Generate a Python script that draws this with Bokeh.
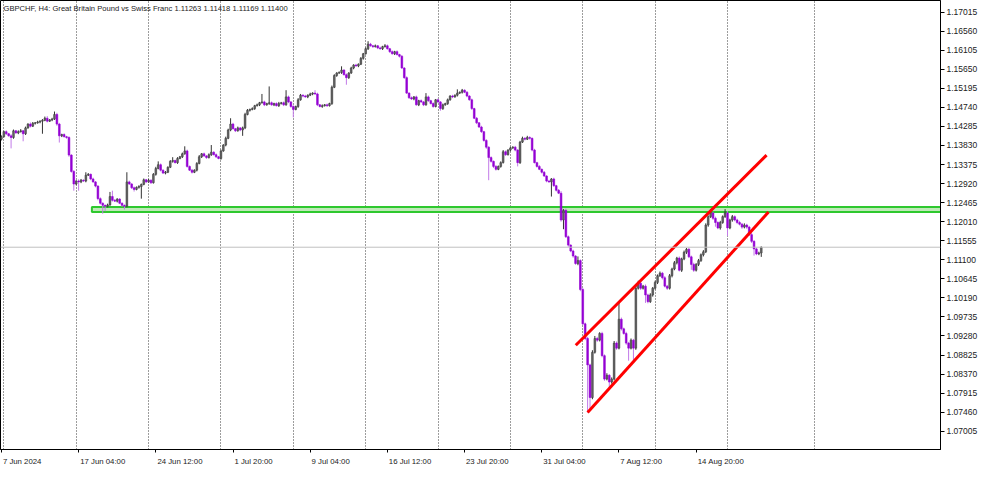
from bokeh.plotting import figure
from bokeh.models import FixedTicker, Label, Span, Range1d
from bokeh.embed import file_html
from bokeh.resources import INLINE

# ---------------- data (H4 bars, index 0 = 10 Jun 2024 00:00) ----------------
first_bar_index = -1
first_open = 1.1398
closes = [
    1.1404, 1.1416, 1.1411, 1.1406, 1.1402, 1.1418, 1.1413, 1.1416, 1.1418, 1.1411,
    1.1425, 1.1434, 1.1429, 1.1436, 1.1437, 1.1439, 1.1441, 1.1443, 1.1448, 1.1441,
    1.1444, 1.1446, 1.1457, 1.1434, 1.1406, 1.1409, 1.1404, 1.1402, 1.1360, 1.1321,
    1.1291, 1.1298, 1.1296, 1.1300, 1.1298, 1.1312, 1.1314, 1.1303, 1.1296, 1.1286,
    1.1256, 1.1245, 1.1240, 1.1238, 1.1241, 1.1261, 1.1252, 1.1250, 1.1255, 1.1245,
    1.1240, 1.1238, 1.1296, 1.1291, 1.1282, 1.1278, 1.1283, 1.1285, 1.1290, 1.1301,
    1.1296, 1.1300, 1.1294, 1.1314, 1.1328, 1.1337, 1.1324, 1.1317, 1.1319, 1.1331,
    1.1345, 1.1347, 1.1342, 1.1352, 1.1356, 1.1363, 1.1370, 1.1333, 1.1324, 1.1319,
    1.1324, 1.1340, 1.1356, 1.1363, 1.1358, 1.1354, 1.1361, 1.1367, 1.1361, 1.1356,
    1.1352, 1.1370, 1.1384, 1.1400, 1.1420, 1.1434, 1.1423, 1.1418, 1.1425, 1.1420,
    1.1425, 1.1457, 1.1467, 1.1469, 1.1471, 1.1478, 1.1480, 1.1485, 1.1487, 1.1480,
    1.1483, 1.1485, 1.1480, 1.1483, 1.1478, 1.1483, 1.1485, 1.1480, 1.1499, 1.1487,
    1.1476, 1.1469, 1.1476, 1.1492, 1.1503, 1.1501, 1.1499, 1.1503, 1.1506, 1.1508,
    1.1506, 1.1480, 1.1476, 1.1478, 1.1480, 1.1478, 1.1483, 1.1522, 1.1550, 1.1556,
    1.1557, 1.1563, 1.1552, 1.1545, 1.1556, 1.1568, 1.1575, 1.1573, 1.1577, 1.1591,
    1.1602, 1.1614, 1.1625, 1.1621, 1.1619, 1.1621, 1.1616, 1.1614, 1.1619, 1.1621,
    1.1614, 1.1607, 1.1602, 1.1607, 1.1600, 1.1596, 1.1568, 1.1545, 1.1508, 1.1497,
    1.1494, 1.1499, 1.1480, 1.1490, 1.1487, 1.1480, 1.1499, 1.1490, 1.1483, 1.1476,
    1.1492, 1.1487, 1.1471, 1.1480, 1.1483, 1.1492, 1.1501, 1.1499, 1.1503, 1.1508,
    1.1510, 1.1515, 1.1510, 1.1501, 1.1492, 1.1471, 1.1448, 1.1437, 1.1427, 1.1416,
    1.1395, 1.1379, 1.1354, 1.1345, 1.1333, 1.1326, 1.1333, 1.1342, 1.1368, 1.1361,
    1.1372, 1.1377, 1.1379, 1.1372, 1.1342, 1.1391, 1.1400, 1.1398, 1.1402, 1.1400,
    1.1372, 1.1342, 1.1333, 1.1326, 1.1319, 1.1310, 1.1298, 1.1296, 1.1303, 1.1287,
    1.1276, 1.1269, 1.1205, 1.1228, 1.1165, 1.1145, 1.1131, 1.1119, 1.1101, 1.1108,
    1.1039, 1.0957, 1.0922, 1.0859, 1.0781, 1.0889, 1.0922, 1.0918, 1.0934, 1.0881,
    1.0825, 1.0834, 1.0818, 1.0825, 1.0911, 1.0899, 1.0968, 1.0945, 1.0934, 1.0911,
    1.0899, 1.0918, 1.0899, 1.1042, 1.1054, 1.1042, 1.1047, 1.1026, 1.1010, 1.1026,
    1.1042, 1.1056, 1.1072, 1.1078, 1.1067, 1.1047, 1.1042, 1.1072, 1.1088, 1.1103,
    1.1114, 1.1085, 1.1112, 1.1128, 1.1135, 1.1117, 1.1099, 1.1085, 1.1099, 1.1108,
    1.1122, 1.1129, 1.1193, 1.1213, 1.1222, 1.1209, 1.1199, 1.1186, 1.1199, 1.1213,
    1.1222, 1.1186, 1.1205, 1.1213, 1.1205, 1.1199, 1.1195, 1.1188, 1.1193, 1.1188,
    1.1170, 1.1154, 1.1136, 1.1124, 1.11263, 1.11400,
]
upper_wick_pips = [
    3, 2, 3, 2, 4, 3, 2, 3, 4, 2,
    3, 2, 4, 3, 2, 3, 2, 3, 4, 5,
    2, 3, 7, 4, 3, 2, 3, 2, 3, 2,
    3, 2, 4, 3, 2, 7, 3, 2, 3, 2,
    2, 3, 2, 2, 3, 11, 14, 3, 2, 2,
    2, 2, 23, 3, 2, 3, 2, 3, 2, 3,
    2, 3, 2, 3, 4, 8, 3, 2, 3, 2,
    3, 8, 2, 3, 2, 3, 11, 3, 2, 3,
    2, 3, 4, 2, 3, 2, 3, 17, 2, 3,
    2, 3, 2, 4, 3, 14, 3, 2, 3, 2,
    3, 4, 3, 2, 3, 2, 3, 2, 19, 3,
    2, 39, 3, 2, 3, 4, 2, 3, 16, 3,
    2, 3, 2, 4, 3, 2, 3, 2, 3, 2,
    7, 3, 2, 3, 2, 3, 2, 4, 3, 2,
    3, 9, 2, 3, 2, 3, 2, 3, 2, 3,
    2, 3, 7, 3, 2, 3, 2, 3, 2, 4,
    3, 2, 3, 2, 3, 2, 3, 2, 3, 2,
    3, 2, 3, 2, 3, 2, 9, 3, 2, 3,
    2, 3, 2, 3, 2, 3, 2, 3, 2, 9,
    2, 3, 2, 3, 2, 3, 2, 3, 2, 3,
    2, 3, 2, 3, 2, 3, 2, 3, 4, 3,
    2, 3, 2, 3, 2, 3, 4, 3, 4, 3,
    2, 3, 2, 3, 2, 3, 2, 3, 2, 3,
    2, 3, 5, 3, 4, 3, 2, 3, 2, 10,
    3, 4, 3, 4, 3, 5, 6, 4, 3, 4,
    3, 5, 3, 4, 5, 4, 42, 4, 3, 4,
    3, 4, 3, 5, 6, 4, 3, 4, 3, 4,
    3, 4, 3, 4, 3, 4, 3, 4, 3, 4,
    3, 4, 3, 4, 3, 4, 3, 4, 3, 4,
    3, 4, 4, 3, 9, 3, 4, 3, 4, 3,
    9, 4, 3, 4, 3, 3, 4, 3, 4, 3,
    3, 4, 3, 3, 3, 1.8,
]
lower_wick_pips = [
    3, 2, 3, 2, 26, 3, 2, 3, 2, 18,
    3, 2, 3, 2, 3, 2, 3, 30, 2, 3,
    2, 3, 2, 4, 16, 3, 2, 3, 4, 3,
    16, 3, 21, 3, 2, 3, 2, 3, 2, 3,
    4, 3, 20, 12, 3, 2, 3, 2, 3, 2,
    3, 8, 3, 2, 3, 5, 2, 3, 29, 2,
    3, 2, 3, 2, 3, 2, 3, 2, 3, 2,
    2, 3, 2, 3, 2, 3, 2, 3, 2, 3,
    2, 3, 2, 3, 2, 3, 2, 3, 2, 3,
    2, 3, 2, 3, 2, 3, 2, 3, 2, 3,
    14, 3, 2, 3, 2, 3, 2, 3, 2, 3,
    2, 3, 2, 3, 2, 3, 2, 3, 2, 3,
    3, 19, 2, 3, 2, 3, 2, 3, 2, 3,
    2, 3, 2, 3, 2, 3, 2, 3, 2, 3,
    2, 3, 2, 17, 3, 2, 3, 2, 3, 2,
    3, 2, 3, 2, 3, 2, 3, 2, 3, 2,
    2, 3, 2, 3, 2, 3, 2, 3, 2, 3,
    2, 3, 2, 3, 2, 3, 2, 3, 2, 3,
    2, 3, 5, 3, 2, 3, 2, 3, 2, 3,
    2, 3, 2, 3, 2, 3, 2, 3, 2, 3,
    3, 4, 54, 3, 4, 3, 2, 3, 2, 3,
    2, 3, 2, 3, 9, 3, 2, 3, 2, 3,
    3, 2, 3, 2, 3, 2, 3, 2, 35, 3,
    3, 2, 4, 22, 3, 4, 3, 4, 3, 4,
    4, 3, 4, 114, 25, 4, 3, 4, 3, 4,
    4, 3, 18, 4, 3, 4, 3, 4, 3, 4,
    30, 3, 30, 4, 3, 4, 3, 19, 4, 3,
    4, 3, 4, 3, 4, 3, 4, 3, 4, 3,
    4, 3, 4, 3, 4, 3, 13, 4, 3, 4,
    3, 4, 3, 4, 3, 4, 10, 3, 4, 3,
    3, 19, 3, 4, 3, 4, 3, 4, 3, 4,
    3, 4, 16, 3, 3, 9.4,
]

# time-axis: bar where each label starts, and the label's centre (labels are left-aligned)
x_tick_idx = [-1, 31, 63, 95, 127, 159, 191, 223, 255, 287]
x_label_centre_idx = [7.6, 41.0, 73.0, 103.5, 135.5, 168.4, 200.4, 232.4, 264.3, 297.3]
x_tick_labels = ["7 Jun 2024", "17 Jun 04:00", "24 Jun 12:00", "1 Jul 20:00",
                 "9 Jul 04:00", "16 Jul 12:00", "23 Jul 20:00", "31 Jul 04:00",
                 "7 Aug 12:00", "14 Aug 20:00"]
week_grid_idx = [0, 30, 60, 90, 120, 150, 180, 210, 240, 270, 300, 336]

y_tick_vals = [1.17015, 1.16560, 1.16105, 1.15650, 1.15195, 1.14740, 1.14285,
               1.13830, 1.13375, 1.12920, 1.12465, 1.12010, 1.11555, 1.11100,
               1.10645, 1.10190, 1.09735, 1.09280, 1.08825, 1.08370, 1.07915,
               1.07460, 1.07005]
y_tick_labels = ["1.17015", "1.16560", "1.16105", "1.15650", "1.15195", "1.14740",
                 "1.14285", "1.13830", "1.13375", "1.12920", "1.12465", "1.12010",
                 "1.11555", "1.11100", "1.10645", "1.10190", "1.09735", "1.09280",
                 "1.08825", "1.08370", "1.07915", "1.07460", "1.07005"]

x_view = [-1.386, 388.3]
price_view = [1.06569, 1.17292]

support_zone_idx = [36.5, 400.0]
support_zone_price = [1.1224, 1.1236]
channel_upper_idx = [237.1, 316.2]
channel_upper_price = [1.0906, 1.1360]
channel_lower_idx = [242.0, 317.0]
channel_lower_price = [1.0745, 1.1224]
last_price = 1.11400
header_text = "GBPCHF, H4:  Great Britain Pound vs Swiss Franc  1.11263 1.11418 1.11169 1.11400"

# ---------------- derived OHLC ----------------
idx = list(range(first_bar_index, first_bar_index + len(closes)))
opens = [first_open] + closes[:-1]
highs = [max(o, c) + u * 0.0001 for o, c, u in zip(opens, closes, upper_wick_pips)]
lows = [min(o, c) - d * 0.0001 for o, c, d in zip(opens, closes, lower_wick_pips)]
bull = [c >= o for o, c in zip(opens, closes)]
bear = [not b for b in bull]


def pick(seq, mask):
    return [v for v, m in zip(seq, mask) if m]


FONT = "Liberation Sans"

p = figure(frame_width=940, frame_height=449, min_border_left=0, min_border_top=0,
           min_border_right=44, min_border_bottom=15,
           x_range=Range1d(*x_view), y_range=Range1d(*price_view),
           y_axis_location="right", output_backend="svg", toolbar_location=None,
           background_fill_color="white", border_fill_color="white")
p.outline_line_color = "black"
p.outline_line_width = 1

# grid: weekly dotted verticals only
p.ygrid.visible = False
p.xgrid.ticker = FixedTicker(ticks=week_grid_idx)
p.xgrid.grid_line_color = "#3a3a3a"
p.xgrid.grid_line_dash = "1 2"
p.xgrid.grid_line_width = 1

# axes
xa = p.xaxis[0]
xa.ticker = FixedTicker(ticks=x_label_centre_idx, minor_ticks=x_tick_idx)
xa.major_label_overrides = {t: s for t, s in zip(x_label_centre_idx, x_tick_labels)}
xa.major_label_text_font = FONT
xa.major_label_text_font_size = "7.8px"
xa.major_label_text_color = "#222222"
xa.major_tick_out = 0
xa.major_tick_in = 0
xa.minor_tick_out = 3
xa.minor_tick_in = 0
xa.minor_tick_line_color = "black"
xa.major_label_standoff = 4
xa.axis_line_color = "black"

ya = p.yaxis[0]
ya.ticker = FixedTicker(ticks=y_tick_vals)
ya.major_label_overrides = {t: s for t, s in zip(y_tick_vals, y_tick_labels)}
ya.major_label_text_font = FONT
ya.major_label_text_font_size = "8.5px"
ya.major_label_text_color = "#222222"
ya.major_tick_out = 4
ya.major_tick_in = 0
ya.minor_tick_out = 0
ya.minor_tick_in = 0
ya.major_label_standoff = 2
ya.axis_line_color = "black"
ya.major_tick_line_color = "black"

# support zone
p.quad(left=[support_zone_idx[0]], right=[support_zone_idx[1]],
       bottom=[support_zone_price[0]], top=[support_zone_price[1]],
       fill_color="#bfeab8", line_color="#2ec82e", line_width=2)

# current price line
p.add_layout(Span(location=last_price, dimension="width", line_color="#c0c0c0", line_width=1))

# candles
p.segment(pick(idx, bull), pick(highs, bull), pick(idx, bull), pick(lows, bull),
          line_color="#333333", line_width=1)
p.segment(pick(idx, bear), pick(highs, bear), pick(idx, bear), pick(lows, bear),
          line_color="#c27ae8", line_width=1)
p.vbar(x=pick(idx, bull), width=0.7,
       top=[max(o, c) for o, c in zip(pick(opens, bull), pick(closes, bull))],
       bottom=[min(o, c) for o, c in zip(pick(opens, bull), pick(closes, bull))],
       fill_color="#666666", line_color="#404040", line_width=0.6)
p.vbar(x=pick(idx, bear), width=0.7,
       top=[max(o, c) for o, c in zip(pick(opens, bear), pick(closes, bear))],
       bottom=[min(o, c) for o, c in zip(pick(opens, bear), pick(closes, bear))],
       fill_color="#9400d3", line_color="#9400d3", line_width=0.6)

# channel lines
p.line(channel_upper_idx, channel_upper_price, line_color="#ff0000", line_width=3)
p.line(channel_lower_idx, channel_lower_price, line_color="#ff0000", line_width=3)

# header
p.add_layout(Label(x=x_view[0], y=price_view[1], x_offset=3, y_offset=-3,
                   text=header_text, text_baseline="top", text_align="left",
                   text_font=FONT, text_font_size="7.6px", text_color="#222222"))

open("out.html", "w").write(file_html(p, INLINE))
